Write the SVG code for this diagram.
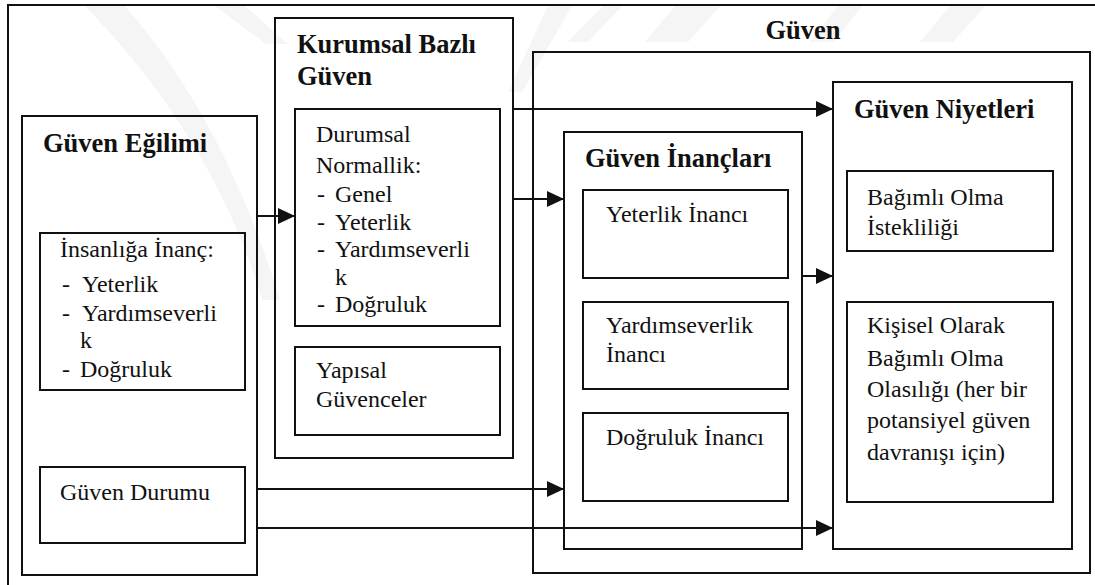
<svg xmlns="http://www.w3.org/2000/svg" width="1095" height="585" viewBox="0 0 1095 585">
  <style>
    .box { fill: none; stroke: #111; stroke-width: 2; }
    .wire { fill: none; stroke: #111; stroke-width: 2; }
    .wm { fill: #f5f5f5; }
    .t { font-family: "Liberation Serif", "Times New Roman", serif; font-size: 24px; fill: #111; }
    .h { font-family: "Liberation Serif", "Times New Roman", serif; font-size: 26.5px; font-weight: bold; fill: #111; }
  </style>
  <defs>
    <marker id="arrow" markerUnits="userSpaceOnUse" markerWidth="18" markerHeight="16" refX="17" refY="8" orient="auto">
      <path d="M0,0 L17,8 L0,16 Z" fill="#111"/>
    </marker>
  </defs>

  <rect width="1095" height="585" fill="#fff"/>

  <!-- faint background watermark bands -->
  <g id="watermark">
    <path class="wm" d="M85,6 L125,6 Q225,120 280,300 L262,300 Q215,140 85,6 Z"/>
    <path class="wm" d="M215,6 L245,6 L288,44 L266,44 Z"/>
    <path class="wm" d="M548,6 L572,6 L522,92 L508,92 Z"/>
    <path class="wm" d="M603,6 L622,6 L588,42 L568,42 Z"/>
    <path class="wm" d="M675,6 L720,6 L688,42 L645,42 Z"/>
    <path class="wm" d="M838,6 L862,6 L834,42 L810,42 Z"/>
    <path class="wm" d="M950,6 L985,6 L953,42 L920,42 Z"/>
  </g>

  <!-- outer frame -->
  <rect class="box" x="8" y="5" width="1100" height="600"/>

  <g id="guven-egilimi">
    <rect class="box" x="22" y="116" width="235" height="459"/>
    <text class="h" x="43" y="152">Güven Eğilimi</text>
  </g>

  <g id="insanliga-inanc">
    <rect class="box" x="40" y="233" width="205" height="157"/>
    <text class="t" x="60" y="257">İnsanlığa İnanç:</text>
    <text class="t" x="62" y="292">-</text><text class="t" x="82" y="292">Yeterlik</text>
    <text class="t" x="62" y="321">-</text><text class="t" x="82" y="321">Yardımseverli</text>
    <text class="t" x="80" y="348">k</text>
    <text class="t" x="62" y="377">-</text><text class="t" x="80" y="377">Doğruluk</text>
  </g>

  <g id="guven-durumu">
    <rect class="box" x="40" y="467" width="205" height="76"/>
    <text class="t" x="60" y="500">Güven Durumu</text>
  </g>

  <g id="kurumsal-bazli-guven">
    <rect class="box" x="275" y="18" width="238" height="440"/>
    <text class="h" x="297" y="53">Kurumsal Bazlı</text>
    <text class="h" x="297" y="85">Güven</text>
  </g>

  <g id="durumsal-normallik">
    <rect class="box" x="295" y="109" width="205" height="217"/>
    <text class="t" x="316" y="142">Durumsal</text>
    <text class="t" x="316" y="173">Normallik:</text>
    <text class="t" x="317" y="202">-</text><text class="t" x="335" y="202">Genel</text>
    <text class="t" x="317" y="230">-</text><text class="t" x="335" y="230">Yeterlik</text>
    <text class="t" x="317" y="257">-</text><text class="t" x="335" y="257">Yardımseverli</text>
    <text class="t" x="335" y="285">k</text>
    <text class="t" x="317" y="312">-</text><text class="t" x="335" y="312">Doğruluk</text>
  </g>

  <g id="yapisal-guvenceler">
    <rect class="box" x="295" y="347" width="205" height="88"/>
    <text class="t" x="316" y="378">Yapısal</text>
    <text class="t" x="316" y="407">Güvenceler</text>
  </g>

  <g id="guven">
    <rect class="box" x="533" y="52" width="557" height="521"/>
    <text class="h" x="803" y="39" text-anchor="middle">Güven</text>
  </g>

  <g id="guven-inanclari">
    <rect class="box" x="564" y="132" width="238" height="417"/>
    <text class="h" x="585" y="167">Güven İnançları</text>
  </g>

  <g id="yeterlik-inanci">
    <rect class="box" x="583" y="190" width="205" height="88"/>
    <text class="t" x="606" y="222">Yeterlik İnancı</text>
  </g>

  <g id="yardimseverlik-inanci">
    <rect class="box" x="583" y="302" width="205" height="87"/>
    <text class="t" x="606" y="333">Yardımseverlik</text>
    <text class="t" x="606" y="362">İnancı</text>
  </g>

  <g id="dogruluk-inanci">
    <rect class="box" x="583" y="413" width="205" height="88"/>
    <text class="t" x="606" y="445">Doğruluk İnancı</text>
  </g>

  <g id="guven-niyetleri">
    <rect class="box" x="833" y="82" width="239" height="467"/>
    <text class="h" x="854" y="118">Güven Niyetleri</text>
  </g>

  <g id="bagimli-olma-istekliligi">
    <rect class="box" x="847" y="171" width="206" height="80"/>
    <text class="t" x="867" y="205">Bağımlı Olma</text>
    <text class="t" x="867" y="235">İstekliliği</text>
  </g>

  <g id="kisisel-bagimli-olma">
    <rect class="box" x="847" y="302" width="206" height="200"/>
    <text class="t" x="867" y="333">Kişisel Olarak</text>
    <text class="t" x="867" y="366">Bağımlı Olma</text>
    <text class="t" x="867" y="397">Olasılığı (her bir</text>
    <text class="t" x="867" y="428">potansiyel güven</text>
    <text class="t" x="867" y="460">davranışı için)</text>
  </g>

  <g id="connectors">
    <line class="wire" x1="257" y1="216" x2="295" y2="216" marker-end="url(#arrow)"/>
    <line class="wire" x1="513" y1="199" x2="564" y2="199" marker-end="url(#arrow)"/>
    <line class="wire" x1="513" y1="109" x2="833" y2="109" marker-end="url(#arrow)"/>
    <line class="wire" x1="802" y1="276" x2="833" y2="276" marker-end="url(#arrow)"/>
    <line class="wire" x1="257" y1="489" x2="564" y2="489" marker-end="url(#arrow)"/>
    <line class="wire" x1="257" y1="528" x2="833" y2="528" marker-end="url(#arrow)"/>
  </g>
</svg>
